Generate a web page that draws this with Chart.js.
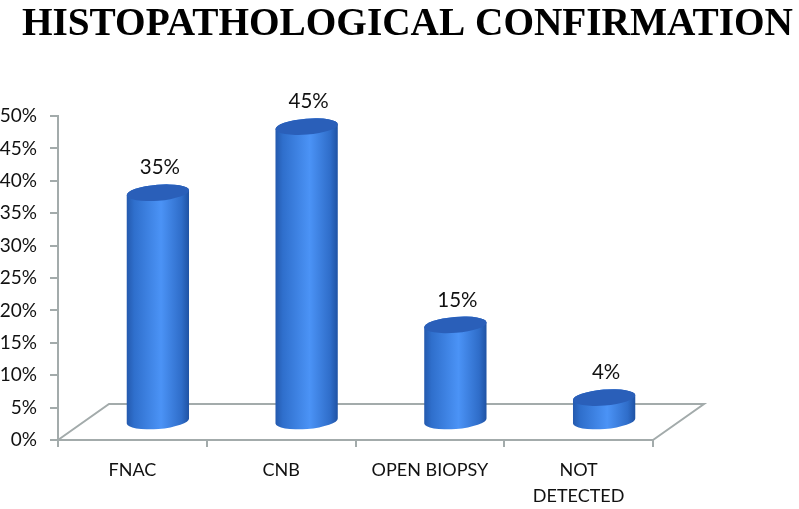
<!DOCTYPE html>
<html>
<head>
<meta charset="utf-8">
<style>
  html, body { margin: 0; padding: 0; background: #fff; }
  #wrap { width: 799px; height: 509px; }
</style>
<script src="https://cdn.jsdelivr.net/npm/chart.js@4/dist/chart.umd.min.js"></script>
</head>
<body>
<div id="wrap"><canvas id="chart" width="799" height="509"></canvas></div>
<script>
const categories = ['FNAC', 'CNB', 'OPEN BIOPSY', ['NOT', 'DETECTED']];
const percent_values = [35, 45, 15, 4];
const y_ticks = [0, 5, 10, 15, 20, 25, 30, 35, 40, 45, 50];
const title_text = 'HISTOPATHOLOGICAL CONFIRMATION';

const axis_color = '#a3abab';
const depth_x = 51, depth_y = 36;

// floor of the fake 3d box, goes behind the bars
const floorPlugin = {
	id: 'floor',
	beforeDatasetsDraw(chart) {
		const { ctx, chartArea: a } = chart;
		ctx.save();
		ctx.strokeStyle = axis_color;
		ctx.lineWidth = 2;
		ctx.beginPath();
		ctx.moveTo(a.left, a.bottom);
		ctx.lineTo(a.left + depth_x, a.bottom - depth_y);
		ctx.lineTo(a.right + depth_x, a.bottom - depth_y);
		ctx.lineTo(a.right, a.bottom);
		ctx.stroke();
		ctx.restore();
	}
};

// redraws the bar elements as cylinders standing half way into the floor
const cylinderPlugin = {
	id: 'cylinder',
	afterDatasetsDraw(chart) {
		const { ctx } = chart;
		const tilt = -0.08, ry = 8;
		chart.getDatasetMeta(0).data.forEach(function(bar, i) {
			const cx = bar.x + depth_x / 2;
			const rx = bar.width / 2;
			const bottom = bar.base - depth_y / 2;
			const top = bottom + 2 - (bar.base - bar.y) * 1.02;

			const grad = ctx.createLinearGradient(cx - rx, 0, cx + rx, 0);
			grad.addColorStop(0, '#2459ad');
			grad.addColorStop(0.12, '#2f6fcc');
			grad.addColorStop(0.55, '#4b93f6');
			grad.addColorStop(0.88, '#2f6dc9');
			grad.addColorStop(1, '#1f52a3');

			ctx.save();
			ctx.fillStyle = grad;
			ctx.beginPath();
			ctx.ellipse(cx, bottom, rx, ry, tilt, 0, Math.PI);
			ctx.ellipse(cx, top, rx, ry, tilt, Math.PI, Math.PI * 2);
			ctx.closePath();
			ctx.fill();

			ctx.fillStyle = '#2a5fb9';
			ctx.beginPath();
			ctx.ellipse(cx, top, rx, ry, tilt, 0, Math.PI * 2);
			ctx.fill();

			ctx.fillStyle = '#111';
			ctx.font = '20.5px Lato';
			ctx.textAlign = 'center';
			ctx.textBaseline = 'middle';
			ctx.fillText(percent_values[i] + '%', cx + 2, top - 25);
			ctx.restore();
		});
	}
};

new Chart(document.getElementById('chart'), {
	type: 'bar',
	data: {
		labels: categories,
		datasets: [{
			data: percent_values,
			backgroundColor: 'transparent',
			categoryPercentage: 1,
			barPercentage: 0.42
		}]
	},
	options: {
		responsive: false,
		animation: false,
		layout: { padding: { left: 0, right: 6, top: 0, bottom: 0 } },
		plugins: {
			legend: { display: false },
			tooltip: { enabled: false },
			title: {
				display: true,
				text: title_text,
				align: 'end',
				color: '#000',
				font: { family: 'Liberation Serif', size: 39.3, weight: 'bold', lineHeight: 1.2 },
				padding: { top: 1, bottom: 67.9 }
			}
		},
		scales: {
			x: {
				afterFit(scale) { scale.height = 69; },
				grid: { drawOnChartArea: false, color: axis_color, lineWidth: 2, tickLength: 7 },
				border: { color: axis_color, width: 2 },
				ticks: {
					color: '#111',
					maxRotation: 0,
					autoSkip: false,
					padding: 10,
					font: { family: 'Lato', size: 18, lineHeight: 1.45 }
				}
			},
			y: {
				min: 0,
				max: 50,
				afterFit(scale) { scale.width = 58; },
				afterBuildTicks(scale) { scale.ticks = y_ticks.map(v => ({ value: v })); },
				grid: { drawOnChartArea: false, color: axis_color, lineWidth: 2, tickLength: 8 },
				border: { color: axis_color, width: 2 },
				ticks: {
					color: '#111',
					padding: 13,
					font: { family: 'Lato', size: 19 },
					callback: v => v + '%'
				}
			},
			// empty axis, only keeps the plot away from the right edge
			spacer: {
				type: 'linear',
				axis: 'y',
				position: 'right',
				afterFit(scale) { scale.width = 140; },
				grid: { display: false },
				border: { display: false },
				ticks: { display: false }
			}
		}
	},
	plugins: [floorPlugin, cylinderPlugin]
});
</script>
</body>
</html>
